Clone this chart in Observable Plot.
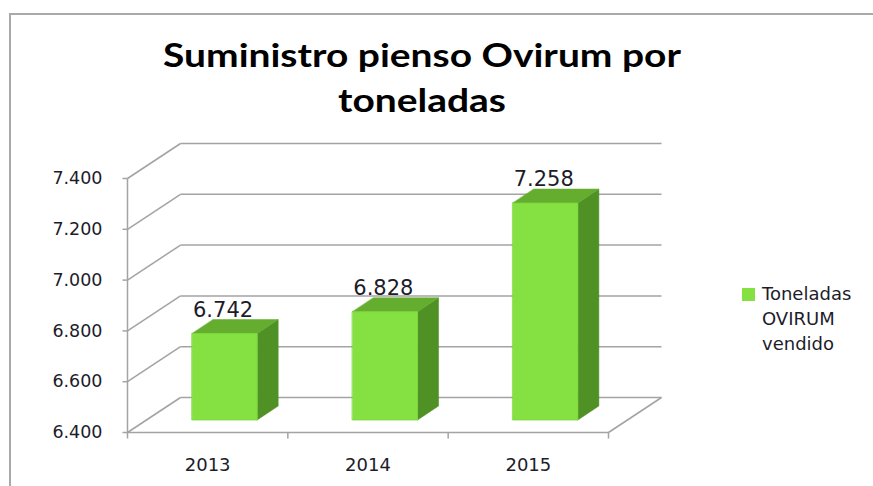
<!DOCTYPE html>
<html><head><meta charset="utf-8">
<script src="https://cdn.jsdelivr.net/npm/d3@7"></script>
<script src="https://cdn.jsdelivr.net/npm/@observablehq/plot@0.6"></script>
<style>
html,body{margin:0;padding:0;background:#fff}
body{width:873px;height:486px;overflow:hidden;position:relative;font-family:"DejaVu Sans",sans-serif}
#frame{position:absolute;left:9px;top:13px;width:900px;height:520px;border:2px solid #a9a9a9;box-sizing:border-box}
#title{position:absolute;left:0;width:844px;top:32px;text-align:center;font-family:Lato,sans-serif;font-weight:bold;font-size:33px;line-height:45px;color:#000;transform:scaleX(1.18);transform-origin:422px 0}
.layer{position:absolute;left:0;top:0}
#legSwatch{position:absolute;left:742px;top:288px;width:13px;height:13px;background:#85e142}
#legText{position:absolute;left:762px;top:281px;font-size:18px;line-height:25px;color:#1c1c2a}
</style>
</head><body>
<div id="frame"></div>
<div id="title">Suministro pienso Ovirum por<br>toneladas</div>
<div id="legSwatch"></div>
<div id="legText">Toneladas<br>OVIRUM<br>vendido</div>
<script>
// ---- data ----
const years = ["2013", "2014", "2015"];
const values = [6742, 6828, 7258];
const yTicks = [6400, 6600, 6800, 7000, 7200, 7400];
const yDomain = [6400, 7400];
const seriesName = "Toneladas OVIRUM vendido";

const loc = d3.formatLocale({decimal: ",", thousands: ".", grouping: [3], currency: ["", "€"]});
const fmt = loc.format(",d");

const W = 873, H = 486;
const grid = "#a3a3a3";
const textColor = "#1c1c2a";

// ---- frame (axes + 3D walls) ----
const A = {left: 127, right: 265, top: 178, bottom: 54};
const n = years.length;
const pxPerX = (W - A.left - A.right) / n;
const pxPerY = (H - A.top - A.bottom) / (yDomain[1] - yDomain[0]);
const depthX = 53 / pxPerX, depthY = 35 / pxPerY;
const tickX = 5 / pxPerX, tickY = 6 / pxPerY;

const frame = Plot.plot({
  width: W, height: H,
  marginLeft: A.left, marginRight: A.right, marginTop: A.top, marginBottom: A.bottom,
  style: {background: "transparent", fontFamily: "DejaVu Sans"},
  x: {type: "linear", domain: [0, n], axis: null},
  y: {type: "linear", domain: yDomain, axis: null},
  marks: [
    Plot.link(yTicks, {x1: 0, y1: d => d, x2: depthX, y2: d => d + depthY, stroke: grid, strokeWidth: 1.5}),
    Plot.link(yTicks, {x1: depthX, y1: d => d + depthY, x2: n + depthX, y2: d => d + depthY, stroke: grid, strokeWidth: 1.5}),
    Plot.link([yDomain[0]], {x1: n, y1: d => d, x2: n + depthX, y2: d => d + depthY, stroke: grid, strokeWidth: 1.5}),
    Plot.link([yDomain[0]], {x1: 0, y1: d => d, x2: n, y2: d => d, stroke: grid, strokeWidth: 1.5}),
    Plot.link([0], {x1: d => d, y1: yDomain[0], x2: d => d, y2: yDomain[1], stroke: grid, strokeWidth: 1.5}),
    Plot.link(yTicks, {x1: -tickX, y1: d => d, x2: 0, y2: d => d, stroke: grid, strokeWidth: 1.5}),
    Plot.text(yTicks, {x: 0, y: d => d, dx: -25, textAnchor: "end", text: d => fmt(d), fontSize: 17.5, fill: textColor}),
    Plot.link(d3.range(n + 1), {x1: d => d, y1: yDomain[0], x2: d => d, y2: yDomain[0] - tickY, stroke: grid, strokeWidth: 1.5}),
    Plot.text(years, {x: (d, i) => i + 0.5, y: yDomain[0], dy: 33, text: d => d, fontSize: 18, fill: textColor})
  ]
});

// ---- bars (at mid depth) ----
const B = {left: 144, right: 248, top: 166.6, bottom: 66.5};
const bxPx = (W - B.left - B.right) / n;
const byPx = (H - B.top - B.bottom) / (yDomain[1] - yDomain[0]);
const bw = 0.406, sx = 21 / bxPx, sy = 14 / byPx;
const bars = years.map((year, i) => ({year, i, value: values[i]}));
function faces(kind) {
  return bars.flatMap(b => {
    const l = b.i + 0.5 - bw / 2, r = b.i + 0.5 + bw / 2, base = yDomain[0], top = b.value;
    let pts;
    if (kind === "front") pts = [[l, base], [r, base], [r, top], [l, top]];
    else if (kind === "side") pts = [[r, base], [r + sx, base + sy], [r + sx, top + sy], [r, top]];
    else pts = [[l, top], [r, top], [r + sx, top + sy], [l + sx, top + sy]];
    return pts.map(([x, y]) => ({x, y, year: b.year}));
  });
}
const barsPlot = Plot.plot({
  width: W, height: H,
  marginLeft: B.left, marginRight: B.right, marginTop: B.top, marginBottom: B.bottom,
  style: {background: "transparent", fontFamily: "DejaVu Sans"},
  x: {type: "linear", domain: [0, n], axis: null},
  y: {type: "linear", domain: yDomain, axis: null},
  marks: [
    Plot.line(faces("side"), {x: "x", y: "y", z: "year", curve: "linear-closed", fill: "#4f9125", stroke: "#4f9125", strokeWidth: 0.5}),
    Plot.line(faces("top"), {x: "x", y: "y", z: "year", curve: "linear-closed", fill: "#64ad2e", stroke: "#64ad2e", strokeWidth: 0.5}),
    Plot.line(faces("front"), {x: "x", y: "y", z: "year", curve: "linear-closed", fill: "#85e142", stroke: "#7ad63a", strokeWidth: 0.8}),
    Plot.text(bars, {x: d => d.i + 0.49, y: "value", dy: -17, lineAnchor: "bottom", text: d => fmt(d.value), fontSize: 21, fill: textColor})
  ]
});

frame.classList.add("layer");
barsPlot.classList.add("layer");
document.body.insertBefore(frame, document.getElementById("title"));
document.body.insertBefore(barsPlot, document.getElementById("title"));
</script>
</body></html>
